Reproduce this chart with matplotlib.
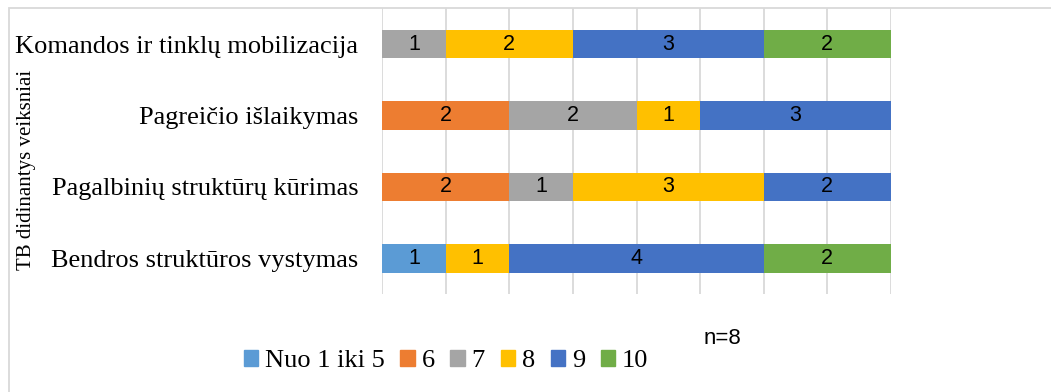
import numpy as np
import matplotlib
matplotlib.use("Agg")
import matplotlib.pyplot as plt
from matplotlib.patches import Rectangle

categories = [
    "Bendros struktūros vystymas",
    "Pagalbinių struktūrų kūrimas",
    "Pagreičio išlaikymas",
    "Komandos ir tinklų mobilizacija",
]
series_names = ["Nuo 1 iki 5", "6", "7", "8", "9", "10"]
nuo_1_iki_5 = [1, 0, 0, 0]
s6 = [0, 2, 2, 0]
s7 = [0, 1, 2, 1]
s8 = [1, 3, 1, 2]
s9 = [4, 2, 3, 3]
s10 = [2, 0, 0, 2]
colors = ["#5B9BD5", "#ED7D31", "#A5A5A5", "#FFC000", "#4472C4", "#70AD47"]

series = [nuo_1_iki_5, s6, s7, s8, s9, s10]

fig = plt.figure(figsize=(10.51, 3.92), dpi=100)
ax = fig.add_axes([382 / 1051, 1 - 294 / 392, (891 - 382) / 1051, (294 - 8.3) / 392])

y = np.arange(len(categories))
left = np.zeros(len(categories))
for name, vals, col in zip(series_names, series, colors):
    vals = np.array(vals)
    ax.barh(y, vals, left=left, height=0.4, color=col, label=name, zorder=2)
    for yi, (l, v) in enumerate(zip(left, vals)):
        if v > 0:
            ax.text(l + v / 2, yi, str(v), ha="center", va="center",
                    fontsize=15.5, family="Liberation Sans", color="black", zorder=3)
    left += vals

ax.set_xlim(0, 8)
ax.set_ylim(-0.5, 3.5)
ax.set_xticks(range(9))
ax.xaxis.grid(True, color="#D9D9D9", linewidth=1.3, zorder=0)
ax.tick_params(axis="x", length=0, labelbottom=False)
ax.tick_params(axis="y", length=0, pad=17)
ax.set_yticks(y)
ax.set_yticklabels(categories, fontsize=19, family="Liberation Serif")
for s in ax.spines.values():
    s.set_visible(False)

fig.text(27 / 1051, 1 - 170 / 392, "TB didinantys veiksniai", rotation=90,
         ha="center", va="center", fontsize=15, family="Liberation Serif")
fig.text(722 / 1051, 1 - 338 / 392, "n=8", ha="center", va="center",
         fontsize=16, family="Liberation Sans")

handles = [Rectangle((0, 0), 1, 1, color=c) for c in colors]
fig.legend(handles, series_names, loc="center", ncol=6,
           bbox_to_anchor=(446 / 1051, 1 - 361 / 392), frameon=False,
           prop={"family": "Liberation Serif", "size": 19},
           handlelength=0.55, handleheight=0.55, handletextpad=0.25,
           columnspacing=0.6, borderpad=0, borderaxespad=0)

fig.patches.append(Rectangle((9 / 1051, -0.1), 1.2, 1 - 8 / 392 + 0.1,
                             transform=fig.transFigure, fill=False,
                             edgecolor="#D9D9D9", linewidth=1.3))

fig.savefig("out.png", dpi=100)
